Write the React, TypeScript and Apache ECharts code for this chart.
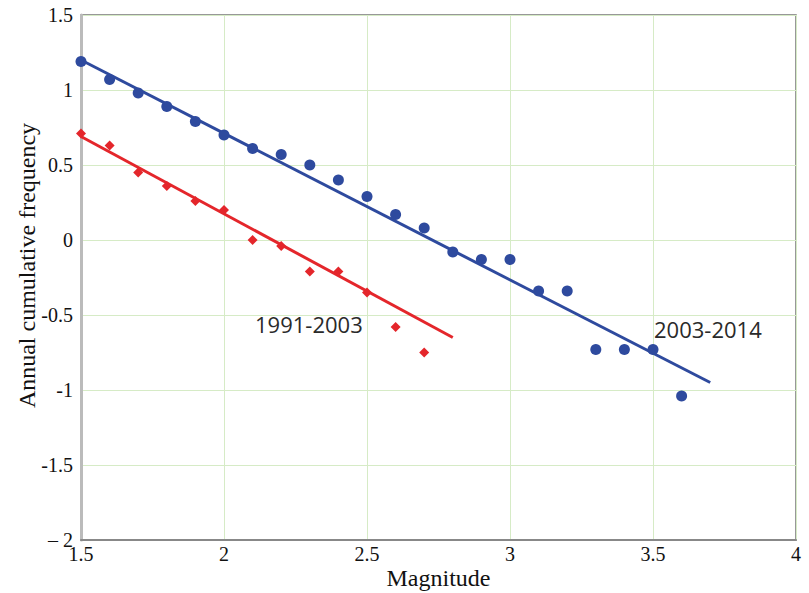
import React, { useEffect, useRef } from "react";
import * as echarts from "echarts";

const blueX = [1.5, 1.6, 1.7, 1.8, 1.9, 2.0, 2.1, 2.2, 2.3, 2.4, 2.5, 2.6, 2.7, 2.8, 2.9, 3.0, 3.1, 3.2, 3.3, 3.4, 3.5, 3.6];
const blueY = [1.19, 1.07, 0.98, 0.89, 0.79, 0.7, 0.61, 0.57, 0.5, 0.4, 0.29, 0.17, 0.08, -0.08, -0.13, -0.13, -0.34, -0.34, -0.73, -0.73, -0.73, -1.04];
const redX = [1.5, 1.6, 1.7, 1.8, 1.9, 2.0, 2.1, 2.2, 2.3, 2.4, 2.5, 2.6, 2.7];
const redY = [0.71, 0.63, 0.45, 0.36, 0.26, 0.2, 0.0, -0.04, -0.21, -0.21, -0.35, -0.58, -0.75];
const blueFit = [[1.5, 1.2], [3.7, -0.95]];
const redFit = [[1.5, 0.69], [2.8, -0.65]];
const seriesLabels = ["1991-2003", "2003-2014"];
const xTitle = "Magnitude";
const yTitle = "Annual cumulative frequency";

const BLUE = "#2e4a9e";
const RED = "#e4262b";
const SERIF = "Liberation Serif";

function fmtY(v: number): string {
  if (v === -2) return "\u2013 2";
  if (v < 0) return "-" + String(Math.abs(v));
  return String(v);
}

export default function App() {
  const ref = useRef<HTMLDivElement>(null);
  useEffect(() => {
    if (!ref.current) return;
    const chart = echarts.init(ref.current, undefined, { renderer: "svg" });
    const tickStyle = { fontFamily: SERIF, fontSize: 20, color: "#111111" };
    chart.setOption({
      animation: false,
      backgroundColor: "#ffffff",
      textStyle: { fontFamily: SERIF, fontSize: 20 },
      grid: {
        left: 81,
        right: 13,
        top: 15,
        bottom: 53,
        show: true,
        borderColor: "#777777",
        borderWidth: 1.5,
        containLabel: false,
        outerBoundsMode: "none",
      },
      xAxis: {
        type: "value",
        min: 1.5,
        max: 4,
        interval: 0.5,
        name: xTitle,
        nameLocation: "middle",
        nameGap: 26,
        nameMoveOverlap: false,
        nameTextStyle: { fontFamily: SERIF, fontSize: 24, color: "#111" },
        axisLine: { show: true, onZero: false, lineStyle: { color: "#888888", width: 2 } },
        axisTick: { show: false },
        axisLabel: { show: true, margin: 4, ...tickStyle },
        splitLine: { show: true, lineStyle: { color: "#d6ebc6", width: 1 } },
      },
      yAxis: {
        type: "value",
        min: -2,
        max: 1.5,
        interval: 0.5,
        name: yTitle,
        nameLocation: "middle",
        nameGap: 42,
        nameMoveOverlap: false,
        nameTextStyle: { fontFamily: SERIF, fontSize: 24, color: "#111", padding: [0, 0, 0, 24] },
        axisLine: { show: true, onZero: false, lineStyle: { color: "#bbbbbb", width: 3 } },
        axisTick: { show: false },
        axisLabel: { show: true, margin: 8, formatter: fmtY, ...tickStyle },
        splitLine: { show: true, lineStyle: { color: "#d6ebc6", width: 1 } },
      },
      series: [
        {
          type: "line",
          data: blueFit,
          symbol: "none",
          lineStyle: { color: BLUE, width: 3 },
          z: 3,
        },
        {
          type: "line",
          data: redFit,
          symbol: "none",
          lineStyle: { color: RED, width: 3 },
          z: 3,
        },
        {
          type: "scatter",
          data: blueX.map((x, i) => [x, blueY[i]]),
          symbol: "circle",
          symbolSize: 11,
          itemStyle: { color: BLUE, opacity: 1 },
          z: 4,
        },
        {
          type: "scatter",
          data: redX.map((x, i) => [x, redY[i]]),
          symbol: "diamond",
          symbolSize: 10,
          itemStyle: { color: RED, opacity: 1 },
          z: 4,
        },
      ],
      graphic: [
        {
          type: "text",
          left: 255,
          top: 313,
          style: { text: seriesLabels[0], fontFamily: "Open Sans", fontSize: 22, fill: "#2a2a2a" },
        },
        {
          type: "text",
          left: 654,
          top: 318,
          style: { text: seriesLabels[1], fontFamily: "Open Sans", fontSize: 22, fill: "#2a2a2a" },
        },
      ],
    });
    return () => chart.dispose();
  }, []);
  return <div ref={ref} style={{ width: 809, height: 593, position: "absolute", left: 0, top: 0 }} />;
}
